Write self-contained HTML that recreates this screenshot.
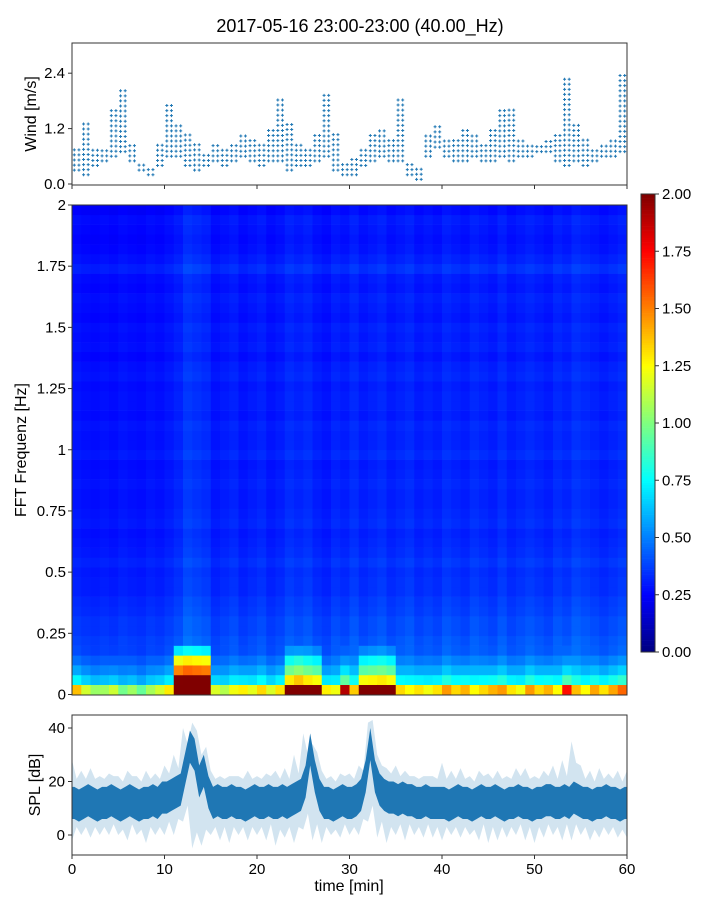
<!DOCTYPE html>
<html><head><meta charset="utf-8"><style>
body{margin:0;background:#fff;font-family:"Liberation Sans",sans-serif}
svg text{font-family:"Liberation Sans",sans-serif;fill:#000}
</style></head><body>
<svg id="c" width="720" height="900" viewBox="0 0 720 900" xmlns="http://www.w3.org/2000/svg">
<text x="360" y="32" font-size="18" text-anchor="middle">2017-05-16 23:00-23:00 (40.00_Hz)</text>
<g id="wind"></g>
<g id="spec"></g>
<g id="cbar"></g>
<g id="spl"></g>
<text transform="translate(36,114) rotate(-90)" font-size="16" text-anchor="middle">Wind [m/s]</text>
<text transform="translate(26,450) rotate(-90)" font-size="16" text-anchor="middle">FFT Frequenz [Hz]</text>
<text transform="translate(40,785) rotate(-90)" font-size="16" text-anchor="middle">SPL [dB]</text>
<text x="349" y="891" font-size="16" text-anchor="middle">time [min]</text>
</svg>
<script>
// ---- data ----
const windLo=[0.3,0.2,0.4,0.5,0.6,0.7,0.5,0.3,0.2,0.4,0.6,0.6,0.4,0.3,0.4,0.5,0.4,0.5,0.6,0.5,0.4,0.5,0.5,0.3,0.4,0.4,0.5,0.6,0.3,0.2,0.2,0.4,0.5,0.6,0.5,0.5,0.2,0.1,0.6,0.8,0.6,0.5,0.5,0.6,0.5,0.5,0.6,0.5,0.6,0.6,0.7,0.7,0.5,0.4,0.5,0.4,0.5,0.6,0.6,0.7];
const windHi=[0.75,1.3,0.75,0.75,1.6,2.1,0.9,0.5,0.4,0.9,1.8,1.3,1.1,0.9,0.7,0.9,0.75,0.9,1.1,1.0,0.9,1.2,1.9,1.3,0.9,0.8,1.1,2.0,1.1,0.5,0.6,0.8,1.1,1.2,1.0,1.9,0.5,0.4,1.1,1.3,1.0,1.0,1.2,1.1,0.9,1.2,1.6,1.7,1.0,0.9,0.9,1.0,1.1,2.3,1.3,1.0,0.8,0.9,1.0,2.4];
const windTicks=[0.0,1.2,2.4];
const rowMean=[0.5,0.45,0.42,0.4,0.38,0.4,0.38,0.38,0.36,0.35,0.33,0.33,0.32,0.34,0.32,0.31,0.3,0.32,0.31,0.3,0.3,0.31,0.3,0.29,0.32,0.3,0.3,0.31,0.29,0.3,0.3,0.29,0.31,0.3,0.28,0.3,0.29,0.3,0.28,0.29,0.3,0.28,0.29,0.33,0.3,0.28,0.27,0.28,0.29,0.26];
const colMean=[0.95,0.92,0.9,0.93,0.9,0.95,0.92,0.9,0.95,0.92,0.98,1.05,1.2,1.15,1.1,0.95,1.0,1.05,0.95,1.0,1.05,0.95,1.0,1.1,1.05,1.1,1.0,0.95,1.05,1.0,1.1,1.0,1.05,1.1,1.0,1.05,1.1,1.0,1.05,1.0,1.1,1.05,1.0,1.1,1.05,1.0,1.1,1.0,1.05,1.1,1.05,1.0,1.1,1.05,1.15,1.1,1.05,1.0,1.05,1.1];
const lowBoost=[0.9,0.7,0.6,0.6,0.7,0.5,0.6,0.5,0.6,0.7,0.8,1.5,1.5,1.5,1.5,0.7,0.6,0.7,0.8,0.7,0.8,0.7,0.8,1.4,1.4,1.4,1.4,0.8,0.7,1.4,0.8,1.4,1.4,1.4,1.4,0.8,0.7,0.8,0.7,0.8,0.9,0.8,0.9,0.7,0.8,0.9,0.9,0.8,0.7,0.9,0.8,0.9,0.7,1.2,0.8,0.7,0.9,0.8,0.9,1.0];
const hotBoost=[0,0,0,0,0,0,0,0,0,0,0,1.0,1.0,1.0,1.0,0,0,0,0,0,0,0,0,0.3,0.4,0.3,0.3,0,0,0,0,0.3,0.3,0.3,0.3,0,0,0,0,0,0,0,0,0,0,0,0,0,0,0,0,0,0,0,0,0,0,0,0,0];
const lowProfile=[1.0,0.35,0.2,0.1,0.04];
const hotProfile=[1.0,1.0,0.75,0.65,0.25];
const freqTicks=[0,0.25,0.5,0.75,1,1.25,1.5,1.75,2];
const freqLabels=["0","0.25","0.5","0.75","1","1.25","1.5","1.75","2"];
const cbarTicks=[0,0.25,0.5,0.75,1,1.25,1.5,1.75,2];
const splMid=[12,11,12,13,12,11,12,12,13,12,11,12,13,12,11,12,12,13,12,14,14,15,16,17,25,33,30,20,24,16,12,13,12,12,13,12,12,11,12,13,12,12,13,12,12,13,12,13,14,15,20,32,22,15,12,12,11,12,13,12,12,13,15,22,34,22,17,15,14,14,13,14,13,13,12,12,13,12,12,12,12,11,12,13,12,12,11,12,13,12,12,13,12,11,12,12,13,12,12,11,12,12,13,13,12,12,13,12,14,13,12,12,11,12,12,13,12,12,11,12];
const splMax=[28,24,25,22,23,22,24,22,24,23,26,30,40,42,30,24,22,22,22,24,22,23,24,25,30,38,34,24,22,23,23,26,42,30,25,26,24,22,22,22,27,24,25,22,24,23,24,22,25,25,22,24,26,28,35,26,24,25,23,24];
const splMin=[-2,0,-1,0,0,0,-2,0,-3,0,0,0,5,-5,-4,0,-2,-3,0,-2,0,-2,-4,-1,-3,2,-2,-3,0,-1,0,0,5,-1,-3,0,-2,0,-1,-1,-2,0,-1,0,-2,-3,-2,-1,0,-2,-3,-1,0,-2,-2,0,-2,-1,0,-1];
const splTicks=[0,20,40];
const timeTicks=[0,10,20,30,40,50,60];
// ---- scales ----
const X0=72,X1=627;
const xT=t=>X0+t*(X1-X0)/60;
const yW=v=>184-v*46.17;
const yF=f=>694.5-f*244.75;
const yS=d=>835-d*2.675;
const yC=v=>652-v*229;
const NS="http://www.w3.org/2000/svg";
function mk(p,tag,at,txt){const e=document.createElementNS(NS,tag);for(const k in at)e.setAttribute(k,at[k]);if(txt!==undefined)e.textContent=txt;p.appendChild(e);return e;}
function jet(v){const x=Math.max(0,Math.min(1,v/2));const c=q=>Math.round(255*Math.max(0,Math.min(1,1.5-Math.abs(4*x-q))));return `rgb(${c(3)},${c(2)},${c(1)})`;}
// ---- wind ----
const W=document.getElementById('wind');
let wd="";
for(let m=0;m<60;m++){for(const s of [0.25,0.75]){const x=xT(m+s);for(let v=windLo[m];v<=windHi[m]+0.001;v+=0.11){const y=yW(v);wd+=`M${x-1.5},${y}h3M${x},${y-1.5}v3`;}}}
const wm=mk(W,'path',{d:wd,stroke:'#1f77b4','stroke-width':1});


const wf=mk(W,'rect',{x:X0,y:43,width:X1-X0,height:142,fill:'none',stroke:'#333','stroke-width':1});


windTicks.forEach(v=>{mk(W,'line',{x1:X0-4,x2:X0,y1:yW(v),y2:yW(v),stroke:'#333'});const t=mk(W,'text',{x:X0-7,y:yW(v)+5,'font-size':15,'text-anchor':'end'},v.toFixed(1));});
timeTicks.forEach(t=>mk(W,'line',{x1:xT(t),x2:xT(t),y1:185,y2:189,stroke:'#333'}));
// ---- spectrogram ----
const S=document.getElementById('spec');
const bw=0.04;
for(let c=0;c<60;c++){for(let r=0;r<rowMean.length;r++){let v=rowMean[r]*colMean[c];if(r<lowProfile.length)v+=lowBoost[c]*lowProfile[r]+hotBoost[c]*hotProfile[r];const y=yF((r+1)*bw);const cell=mk(S,'rect',{x:xT(c),y:y,width:xT(c+1)-xT(c)+0.3,height:yF(r*bw)-y+0.3,fill:jet(v)});

}}
const sf=mk(S,'rect',{x:X0,y:205,width:X1-X0,height:490,fill:'none',stroke:'#333'});


freqTicks.forEach((f,i)=>{mk(S,'line',{x1:X0-4,x2:X0,y1:yF(f),y2:yF(f),stroke:'#333'});const t=mk(S,'text',{x:X0-6,y:yF(f)+5,'font-size':15,'text-anchor':'end'},freqLabels[i]);});
// ---- colorbar ----
const C=document.getElementById('cbar');
for(let i=0;i<200;i++){const v=i/100;mk(C,'rect',{x:641,y:yC(v+0.01),width:14,height:2.6,fill:jet(v+0.005)});}
mk(C,'rect',{x:641,y:194,width:14,height:458,fill:'none',stroke:'#333'});
cbarTicks.forEach(v=>{mk(C,'line',{x1:655,x2:659,y1:yC(v),y2:yC(v),stroke:'#333'});const t=mk(C,'text',{x:662,y:yC(v)+5,'font-size':15},v.toFixed(2));});
// ---- SPL ----
const P=document.getElementById('spl');
let envTop="",envBot="";
for(let m=0;m<60;m++){envTop+=`${m?'L':'M'}${xT(m)},${yS(splMax[m])}L${xT(m+0.5)},${yS(Math.max(splMid[2*m]+9,splMax[m]-8))}`;}
for(let m=59;m>=0;m--){envBot+=`L${xT(m+0.5)},${yS(Math.min(splMid[2*m]-9,splMin[m]+6))}L${xT(m)},${yS(splMin[m])}`;}
const env=mk(P,'path',{d:envTop+`L${xT(60)},${yS(splMax[59])}L${xT(60)},${yS(splMin[59])}`+envBot+'Z',fill:'#1f77b4','fill-opacity':0.2});


let ct="",cb="";
splMid.forEach((v,i)=>{ct+=`L${xT(i*0.5+0.25)},${yS(v+6)}`;});
for(let i=splMid.length-1;i>=0;i--)cb+=`L${xT(i*0.5+0.25)},${yS(splMid[i]-6)}`;
const core=mk(P,'path',{d:`M${xT(0)},${yS(splMid[0]+6)}`+ct+`L${xT(60)},${yS(splMid[119]+6)}L${xT(60)},${yS(splMid[119]-6)}`+cb+`L${xT(0)},${yS(splMid[0]-6)}Z`,fill:'#1f77b4'});


const pf=mk(P,'rect',{x:X0,y:715,width:X1-X0,height:140,fill:'none',stroke:'#333'});


splTicks.forEach(v=>{mk(P,'line',{x1:X0-4,x2:X0,y1:yS(v),y2:yS(v),stroke:'#333'});const t=mk(P,'text',{x:X0-7,y:yS(v)+5,'font-size':15,'text-anchor':'end'},v);});
timeTicks.forEach(v=>{mk(P,'line',{x1:xT(v),x2:xT(v),y1:855,y2:859,stroke:'#333'});const t=mk(P,'text',{x:xT(v),y:874,'font-size':15,'text-anchor':'middle'},v);});
</script>
</body></html>
